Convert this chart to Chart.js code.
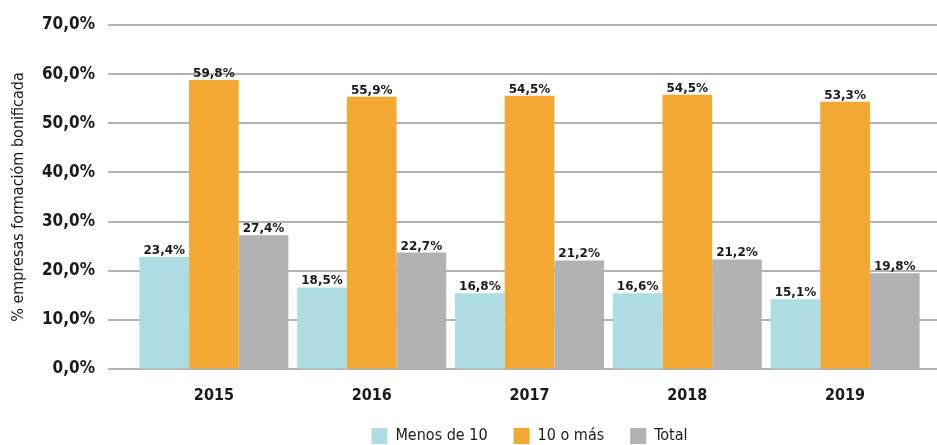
<!DOCTYPE html>
<html>
<head>
<meta charset="utf-8">
<script src="https://cdn.jsdelivr.net/npm/chart.js@4"></script>
<style>
  html, body { margin: 0; padding: 0; background: #fff; }
  #wrap { width: 937px; height: 445px; position: relative; }
</style>
</head>
<body>
<div id="wrap"><canvas id="chart"></canvas></div>
<script>
// categories
const years = ['2015', '2016', '2017', '2018', '2019'];

// bar heights as drawn in the picture (%)
const menosDe10 = [22.8, 16.6, 15.4, 15.4, 14.2];
const diezOMas = [58.8, 55.4, 55.6, 55.8, 54.4];
const total = [27.2, 23.7, 22.1, 22.3, 19.5];

// value labels as printed above the bars
const menosDe10Labels = ['23,4%', '18,5%', '16,8%', '16,6%', '15,1%'];
const diezOMasLabels = ['59,8%', '55,9%', '54,5%', '54,5%', '53,3%'];
const totalLabels = ['27,4%', '22,7%', '21,2%', '21,2%', '19,8%'];

const seriesNames = ['Menos de 10', '10 o más', 'Total'];
const colors = ['#ADDCE3', '#F4A834', '#B2B2B4'];
const valueLabels = [menosDe10Labels, diezOMasLabels, totalLabels];

const FONT = '"DejaVu Sans Condensed", "DejaVu Sans"';
const GRID_COLOR = '#B3B3B3';
const GRID_EXTRA_LEFT = 27;

// horizontal grid lines running the full width, behind the bars
const gridPlugin = {
  id: 'fullGrid',
  beforeDatasetsDraw(chart) {
    const { ctx, chartArea, scales: { y } } = chart;
    ctx.save();
    ctx.strokeStyle = GRID_COLOR;
    ctx.lineWidth = 2;
    y.ticks.forEach(t => {
      const py = Math.round(y.getPixelForValue(t.value));
      ctx.beginPath();
      ctx.moveTo(chartArea.left - GRID_EXTRA_LEFT, py);
      ctx.lineTo(chart.width, py);
      ctx.stroke();
    });
    ctx.restore();
  }
};

// printed value above each bar
const valueLabelPlugin = {
  id: 'valueLabels',
  afterDatasetsDraw(chart) {
    const { ctx } = chart;
    ctx.save();
    ctx.font = 'bold 12px "DejaVu Sans"';
    ctx.fillStyle = '#1a1a1a';
    ctx.textAlign = 'center';
    ctx.textBaseline = 'alphabetic';
    chart.data.datasets.forEach((ds, di) => {
      chart.getDatasetMeta(di).data.forEach((bar, i) => {
        ctx.fillText(valueLabels[di][i], bar.x, bar.y - 3);
      });
    });
    ctx.restore();
  }
};

new Chart(document.getElementById('chart').getContext('2d'), {
  type: 'bar',
  data: {
    labels: years,
    datasets: [menosDe10, diezOMas, total].map((d, i) => ({
      label: seriesNames[i],
      data: d,
      backgroundColor: colors[i],
      borderWidth: 0,
      categoryPercentage: 0.944,
      barPercentage: 1.0
    }))
  },
  options: {
    responsive: true,
    maintainAspectRatio: false,
    animation: false,
    layout: { padding: { top: 25, right: 13, bottom: -9, left: 0 } },
    plugins: {
      tooltip: { enabled: false },
      legend: {
        position: 'bottom',
        fullSize: false,
        labels: {
          boxWidth: 16,
          boxHeight: 16,
          padding: 26,
          color: '#1a1a1a',
          font: { family: FONT, size: 16 }
        }
      }
    },
    scales: {
      x: {
        grid: { display: false, drawTicks: false },
        border: { display: false },
        ticks: {
          color: '#1a1a1a',
          padding: 17,
          font: { family: FONT, size: 16, weight: 'bold' }
        },
        afterFit(scale) { scale.height = 33; }
      },
      y: {
        min: 0,
        max: 70,
        grid: { color: 'rgba(0,0,0,0)', drawTicks: true, tickLength: GRID_EXTRA_LEFT },
        border: { display: false },
        ticks: {
          stepSize: 10,
          padding: 13,
          color: '#1a1a1a',
          font: { family: FONT, size: 17, weight: 'bold' },
          callback: v => v.toFixed(1).replace('.', ',') + '%'
        },
        title: {
          display: true,
          text: '% empresas formacióm bonificada',
          color: '#1a1a1a',
          padding: { top: 9, bottom: 0 },
          font: { family: FONT, size: 16 }
        },
        afterFit(scale) { scale.width = 135; }
      }
    }
  },
  plugins: [gridPlugin, valueLabelPlugin]
});
</script>
</body>
</html>
